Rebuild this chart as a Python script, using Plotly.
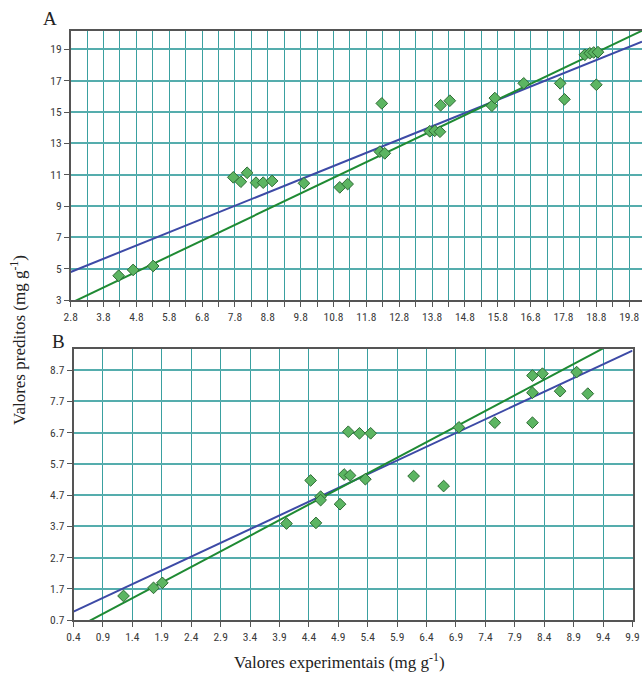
import plotly.graph_objects as go

# ---------------- Data ----------------
# Panel A: experimental (x) vs predicted (y), mg g-1
a_exp = [4.26, 4.70, 5.31, 7.75, 7.98, 8.17, 8.44, 8.66, 8.93, 9.90, 10.99, 11.23,
         12.21, 12.36, 12.27, 13.73, 13.88, 14.04, 14.06, 14.34, 15.62, 15.71,
         16.59, 17.70, 17.83, 18.80, 18.45, 18.60, 18.72, 18.85]
a_pred = [4.55, 4.92, 5.17, 10.83, 10.55, 11.12, 10.49, 10.49, 10.60, 10.45, 10.19, 10.40,
          12.47, 12.36, 15.55, 13.77, 13.80, 13.74, 15.43, 15.72, 15.40, 15.89,
          16.83, 16.83, 15.81, 16.74, 18.65, 18.75, 18.80, 18.82]
# regression line (blue) and ideal line y = x (green), panel A
a_fit_x = [2.8, 20.19]
a_fit_y = [4.79, 19.49]
a_ideal_x = [2.8, 20.4]
a_ideal_y = [2.8, 20.4]

# Panel B
b_exp = [1.25, 1.76, 1.91, 4.02, 4.52, 4.60, 4.60, 4.93, 4.43, 5.00, 5.10, 5.36,
         6.18, 6.69, 5.07, 5.26, 5.45, 6.95, 7.56, 8.20, 8.20, 8.20, 8.37, 8.67,
         8.95, 9.14]
b_pred = [1.47, 1.73, 1.89, 3.79, 3.81, 4.65, 4.54, 4.41, 5.17, 5.36, 5.33, 5.21,
          5.31, 4.99, 6.73, 6.68, 6.68, 6.87, 7.02, 7.02, 7.98, 8.53, 8.59, 8.03,
          8.64, 7.95]
b_fit_x = [0.4, 9.9]
b_fit_y = [0.97, 9.33]
b_ideal_x = [0.4, 9.6]
b_ideal_y = [0.4, 9.6]

# axis settings (values)
a_xrange = [2.8, 20.19]
a_yrange = [3, 20.19]
b_xrange = [0.4, 9.9]
b_yrange = [0.7, 9.38]

# ---------------- Styles ----------------
W, H = 642, 674
BLUE = "#3d4aa6"
GREEN = "#1f8a33"
MFILL = "#5cb562"
MLINE = "#2e6b34"
GRID_V = "#3aa0a0"
GRID_H = "#55adad"
AXC = "#555555"
TICKFONT = dict(family="Liberation Sans Narrow, Arial Narrow, Roboto Condensed, DejaVu Sans Condensed, sans-serif",
                size=11.5, color="#3a3a3a")
SERIF = "Liberation Serif, Times New Roman, serif"


def px_x(v):
    return v / W


def px_y(v):
    return 1 - v / H


fig = go.Figure()

marker = dict(symbol="diamond", size=9, color=MFILL, line=dict(color=MLINE, width=1))

# Panel A
fig.add_trace(go.Scatter(x=a_fit_x, y=a_fit_y, mode="lines", line=dict(color=BLUE, width=2),
                         xaxis="x", yaxis="y", showlegend=False, hoverinfo="skip"))
fig.add_trace(go.Scatter(x=a_ideal_x, y=a_ideal_y, mode="lines", line=dict(color=GREEN, width=2),
                         xaxis="x", yaxis="y", showlegend=False, hoverinfo="skip"))
fig.add_trace(go.Scatter(x=a_exp, y=a_pred, mode="markers", marker=marker,
                         xaxis="x", yaxis="y", showlegend=False, cliponaxis=True))

# Panel B
fig.add_trace(go.Scatter(x=b_fit_x, y=b_fit_y, mode="lines", line=dict(color=BLUE, width=2),
                         xaxis="x2", yaxis="y2", showlegend=False, hoverinfo="skip"))
fig.add_trace(go.Scatter(x=b_ideal_x, y=b_ideal_y, mode="lines", line=dict(color=GREEN, width=2),
                         xaxis="x2", yaxis="y2", showlegend=False, hoverinfo="skip"))
fig.add_trace(go.Scatter(x=b_exp, y=b_pred, mode="markers", marker=marker,
                         xaxis="x2", yaxis="y2", showlegend=False, cliponaxis=True))

common_x = dict(showline=True, linecolor=AXC, linewidth=1.5, mirror=True, ticks="outside",
                ticklen=5, tickcolor=AXC, tickfont=TICKFONT, zeroline=False, automargin=False,
                gridcolor=GRID_V, gridwidth=1)
common_y = dict(showline=True, linecolor=AXC, linewidth=1.5, ticks="outside", ticklen=5,
                tickcolor=AXC, tickfont=TICKFONT, zeroline=False, automargin=False,
                gridcolor=GRID_H, gridwidth=2)

ann_common = dict(xref="paper", yref="paper", showarrow=False, xanchor="center", yanchor="middle")

fig.update_layout(
    width=W, height=H, margin=dict(l=0, r=0, t=0, b=0),
    paper_bgcolor="white", plot_bgcolor="white",
    xaxis=dict(domain=[px_x(70.7), 1.0], range=a_xrange, anchor="y",
               tick0=2.8, dtick=1, tickformat=".1f",
               minor=dict(tick0=2.8, dtick=0.5, showgrid=True, gridcolor=GRID_V, gridwidth=1,
                          ticks="outside", ticklen=5, tickcolor=AXC),
               **common_x),
    yaxis=dict(domain=[px_y(300), px_y(30.7)], range=a_yrange, anchor="x",
               tick0=3, dtick=2, **common_y),
    xaxis2=dict(domain=[px_x(73.5), px_x(632.5)], range=b_xrange, anchor="y2",
                tick0=0.4, dtick=0.5, tickformat=".1f", **common_x),
    yaxis2=dict(domain=[px_y(620), px_y(349)], range=b_yrange, anchor="x2", mirror=True,
                tick0=0.7, dtick=1, tickformat=".1f", **common_y),
    annotations=[
        dict(text="A", x=px_x(50), y=px_y(18), font=dict(family=SERIF, size=19, color="#222"),
             **ann_common),
        dict(text="B", x=px_x(58), y=px_y(341), font=dict(family=SERIF, size=19, color="#222"),
             **ann_common),
        dict(text="Valores preditos (mg g<sup>-1</sup>)", x=px_x(18), y=px_y(340), textangle=-90,
             font=dict(family=SERIF, size=17, color="#222"), **ann_common),
        dict(text="Valores experimentais (mg g<sup>-1</sup>)", x=px_x(340), y=px_y(661),
             font=dict(family=SERIF, size=17, color="#222"), **ann_common),
    ],
)

fig.write_html("out.html")
